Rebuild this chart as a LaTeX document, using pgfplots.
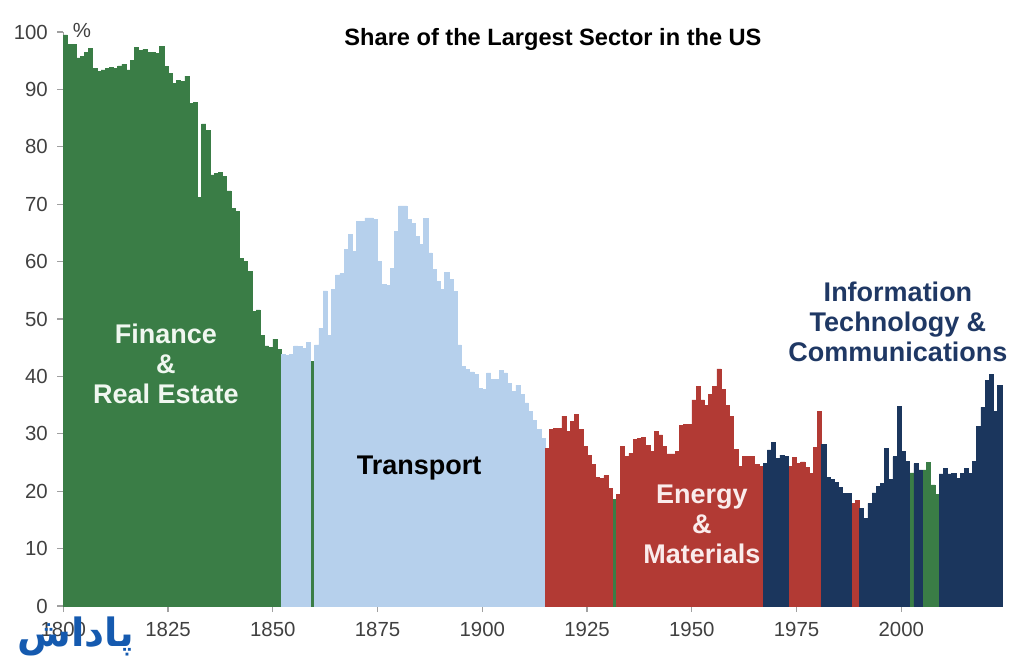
\documentclass[border=0pt]{standalone}
\usepackage{fontspec}
\setmainfont{Liberation Sans}
\newfontfamily\arabicfont[Script=Arabic]{DejaVu Sans}
\TeXXeTstate=1
\usepackage{pgfplots}
\usepackage{pgfplotstable}
\pgfplotsset{compat=1.18}

\definecolor{finance}{RGB}{58,125,70}
\definecolor{transport}{RGB}{182,208,236}
\definecolor{energy}{RGB}{178,58,52}
\definecolor{tech}{RGB}{27,54,93}
\definecolor{ticklab}{RGB}{64,64,64}
\definecolor{axisgray}{RGB}{160,160,160}
\definecolor{techlabel}{RGB}{31,56,100}
\definecolor{logoblue}{RGB}{21,90,175}

% Share of the largest sector, by year (%)
\pgfplotstableread{
year share
1800 99.5
1801 97.8
1802 97.9
1803 95.5
1804 95.7
1805 96.5
1806 97.1
1807 93.7
1808 93.1
1809 93.4
1810 93.7
1811 93.9
1812 93.6
1813 94.1
1814 94.4
1815 93.4
1816 95.0
1817 97.3
1818 96.8
1819 97.0
1820 96.5
1821 96.4
1822 96.3
1823 97.5
1824 94.0
1825 92.8
1826 91.1
1827 91.5
1828 91.4
1829 92.3
1830 87.6
1831 87.7
1832 71.2
1833 84.0
1834 82.8
1835 75.1
1836 75.3
1837 75.6
1838 74.9
1839 72.3
1840 69.2
1841 68.8
1842 60.6
1843 60.0
1844 58.3
1845 51.3
1846 51.6
1847 47.2
1848 45.3
1849 45.1
1850 46.5
1851 44.7
1859 42.6
1931 18.6
2002 23.2
2005 23.7
2006 25.0
2007 21.1
2008 19.4
}\finance

\pgfplotstableread{
year share
1852 43.8
1853 43.6
1854 43.9
1855 45.3
1856 45.2
1857 44.9
1858 45.9
1860 45.5
1861 48.4
1862 54.9
1863 47.1
1864 55.2
1865 57.7
1866 57.9
1867 62.1
1868 64.7
1869 61.8
1870 67.0
1871 67.0
1872 67.6
1873 67.6
1874 67.4
1875 60.0
1876 56.0
1877 55.9
1878 58.8
1879 65.2
1880 69.7
1881 69.7
1882 67.4
1883 66.7
1884 64.4
1885 63.0
1886 67.5
1887 61.5
1888 58.6
1889 56.6
1890 55.2
1891 58.1
1892 56.9
1893 54.8
1894 45.5
1895 41.8
1896 41.2
1897 40.8
1898 40.3
1899 37.9
1900 37.8
1901 40.6
1902 39.5
1903 39.5
1904 41.1
1905 40.6
1906 38.8
1907 37.4
1908 38.5
1909 36.8
1910 35.4
1911 33.9
1912 32.4
1913 30.7
1914 29.2
}\transport

\pgfplotstableread{
year share
1915 27.5
1916 30.8
1917 30.9
1918 30.9
1919 33.1
1920 30.4
1921 32.1
1922 33.4
1923 30.7
1924 27.8
1925 26.3
1926 24.6
1927 22.4
1928 22.2
1929 22.7
1930 20.5
1932 19.5
1933 27.8
1934 26.0
1935 26.6
1936 29.0
1937 29.2
1938 29.4
1939 28.0
1940 26.9
1941 30.4
1942 29.8
1943 27.8
1944 26.5
1945 26.5
1946 27.0
1947 31.4
1948 31.6
1949 31.6
1950 35.9
1951 38.3
1952 35.9
1953 35.0
1954 36.8
1955 38.3
1956 41.3
1957 37.7
1958 35.0
1959 33.1
1960 27.3
1961 24.3
1962 26.1
1963 26.1
1964 26.0
1965 24.6
1966 24.3
1973 24.3
1974 25.9
1975 24.8
1976 25.1
1977 24.2
1978 23.1
1979 27.7
1980 33.9
1988 17.9
1989 18.4
}\energy

\pgfplotstableread{
year share
1967 24.9
1968 27.2
1969 28.5
1970 25.7
1971 26.3
1972 26.0
1981 28.2
1982 22.4
1983 22.1
1984 21.5
1985 20.7
1986 19.6
1987 19.6
1990 17.0
1991 15.3
1992 17.9
1993 19.7
1994 20.8
1995 21.3
1996 27.5
1997 22.1
1998 26.0
1999 34.8
2000 26.9
2001 25.2
2003 24.8
2004 23.7
2009 23.0
2010 24.0
2011 23.0
2012 23.1
2013 22.2
2014 23.1
2015 24.0
2016 23.1
2017 25.2
2018 31.3
2019 34.6
2020 39.3
2021 40.3
2022 33.9
2023 38.5
}\tech

\pgfplotsset{
  yearbar/.style={ybar, bar width=1, bar shift=0pt, fill=#1, draw=#1, line width=0.3pt},
}

\begin{document}
\begin{tikzpicture}
\useasboundingbox (0,0) rectangle (512pt,330pt);
\begin{axis}[
  at={(31.65pt,27pt)}, anchor=south west,
  scale only axis, width=469.3pt, height=287pt,
  xmin=1800, xmax=2024, ymin=0, ymax=100,
  axis x line*=bottom, axis y line*=left,
  axis line style={axisgray, line width=0.6pt, -},
  xtick={1800,1825,...,2000},
  ytick={0,10,...,100},
  tick style={axisgray, line width=0.6pt},
  tick align=outside, major tick length=3pt,
  ticklabel style={font=\fontsize{10.2}{11}\selectfont, text=ticklab},
  xticklabel style={yshift=-1.8pt},
  yticklabel style={xshift=-1.2pt},
  /pgf/number format/assume math mode=true,
  /pgf/number format/1000 sep={},
  clip=false,
]
\addplot[yearbar=finance]   table[x expr=\thisrow{year}+0.5, y=share] {\finance};
\addplot[yearbar=transport] table[x expr=\thisrow{year}+0.5, y=share] {\transport};
\addplot[yearbar=energy]    table[x expr=\thisrow{year}+0.5, y=share] {\energy};
\addplot[yearbar=tech]      table[x expr=\thisrow{year}+0.5, y=share] {\tech};

\node[align=center, text={rgb,255:red,240;green,247;blue,240},
      font=\bfseries\fontsize{13.5}{15}\selectfont]
  at (axis cs:1824.5,42.2) {Finance\\\&\\Real Estate};
\node[text=black, font=\bfseries\fontsize{13.5}{15}\selectfont]
  at (axis cs:1884.9,24.1) {Transport};
\node[align=center, text={rgb,255:red,250;green,236;blue,236},
      font=\bfseries\fontsize{13.5}{15}\selectfont]
  at (axis cs:1952.4,14.3) {Energy\\\&\\Materials};
\node[align=center, text=techlabel,
      font=\bfseries\fontsize{13.5}{15}\selectfont]
  at (axis cs:1999.2,49.5) {Information\\Technology \&\\Communications};
\end{axis}

\node[font=\bfseries\fontsize{11.8}{13}\selectfont] at (276.5pt,310.5pt)
  {Share of the Largest Sector in the US};
\node[font=\fontsize{10.2}{11}\selectfont, text=ticklab] at (41pt,315pt) {\%};
\node[font=\arabicfont\bfseries\fontsize{19.5}{21}\selectfont, text=logoblue, inner sep=0pt]
  at (38pt,12pt) {\beginR پاداش\endR};
\end{tikzpicture}
\end{document}
